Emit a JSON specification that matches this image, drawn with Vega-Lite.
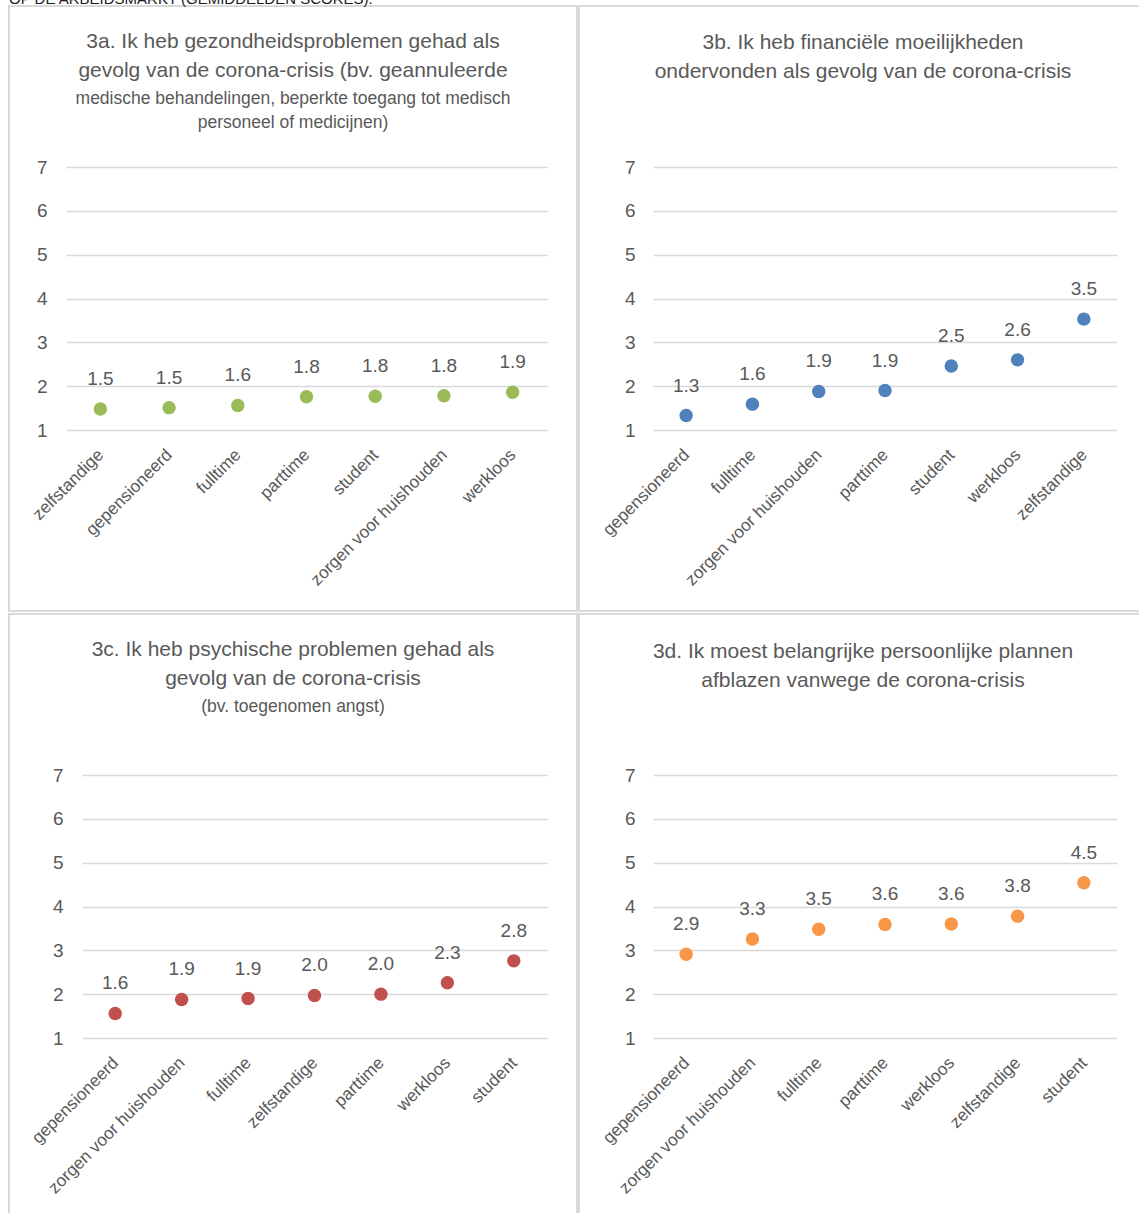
{
  "$schema": "https://vega.github.io/schema/vega-lite/v6.json",
  "padding": {"left": 8, "top": -8, "right": 0, "bottom": 0},
  "background": "white",
  "config": {
    "font": "Liberation Sans",
    "view": {"stroke": "#d9d9d9", "strokeWidth": 2},
    "axis": {"labelColor": "#595959", "labelFont": "Liberation Sans", "labelFontSize": 19, "domain": false, "ticks": false, "title": null, "gridColor": "#d9d9d9", "gridWidth": 1.5},
    "axisX": {"labelFontSize": 17.2, "labelBaseline": "middle", "labelAlign": "right"},
    "title": {"color": "#595959", "font": "Liberation Sans", "fontSize": 21, "fontWeight": "normal", "subtitleColor": "#595959", "subtitleFont": "Liberation Sans", "subtitleFontSize": 17.5, "lineHeight": 29, "subtitleLineHeight": 24, "subtitlePadding": 9, "anchor": "middle", "frame": "group"}
  },
  "title": {"text": "OP DE ARBEIDSMARKT (GEMIDDELDEN SCORES).", "anchor": "start", "font": "Liberation Sans", "fontSize": 15, "color": "#1a1a1a", "offset": -2},
  "datasets": {
    "a": [
      {"groep": "zelfstandige", "score": 1.48},
      {"groep": "gepensioneerd", "score": 1.51},
      {"groep": "fulltime", "score": 1.56},
      {"groep": "parttime", "score": 1.76},
      {"groep": "student", "score": 1.77},
      {"groep": "zorgen voor huishouden", "score": 1.78},
      {"groep": "werkloos", "score": 1.86}
    ],
    "b": [
      {"groep": "gepensioneerd", "score": 1.33},
      {"groep": "fulltime", "score": 1.59},
      {"groep": "zorgen voor huishouden", "score": 1.88},
      {"groep": "parttime", "score": 1.9},
      {"groep": "student", "score": 2.46},
      {"groep": "werkloos", "score": 2.6},
      {"groep": "zelfstandige", "score": 3.53}
    ],
    "c": [
      {"groep": "gepensioneerd", "score": 1.56},
      {"groep": "zorgen voor huishouden", "score": 1.88},
      {"groep": "fulltime", "score": 1.9},
      {"groep": "zelfstandige", "score": 1.97},
      {"groep": "parttime", "score": 2.0},
      {"groep": "werkloos", "score": 2.26},
      {"groep": "student", "score": 2.76}
    ],
    "d": [
      {"groep": "gepensioneerd", "score": 2.91},
      {"groep": "zorgen voor huishouden", "score": 3.26},
      {"groep": "fulltime", "score": 3.48},
      {"groep": "parttime", "score": 3.59},
      {"groep": "werkloos", "score": 3.6},
      {"groep": "zelfstandige", "score": 3.78},
      {"groep": "student", "score": 4.54}
    ]
  },
  "spacing": 1,
  "vconcat": [
    {
      "spacing": 0,
      "hconcat": [
        {
          "width": 568, "height": 605,
          "title": {"text": ["3a. Ik heb gezondheidsproblemen gehad als", "gevolg van de corona-crisis (bv. geannuleerde"], "subtitle": ["medische behandelingen, beperkte toegang tot medisch", "personeel of medicijnen)"], "offset": -125},
          "data": {"name": "a"},
          "encoding": {
            "x": {"field": "groep", "type": "nominal", "sort": null, "scale": {"range": [57, 538], "paddingInner": 0, "paddingOuter": 0}, "axis": {"labelAngle": -45, "offset": -181, "labelPadding": 22, "grid": false, "labelLimit": 400}},
            "y": {"field": "score", "type": "quantitative", "scale": {"domain": [1, 7], "range": [424, 161], "nice": false, "zero": false}, "axis": {"values": [1, 2, 3, 4, 5, 6, 7], "offset": -38, "labelPadding": 0, "grid": true}}
          },
          "layer": [
            {"mark": {"type": "circle", "size": 180, "opacity": 1, "color": "#9bbb59"}},
            {"mark": {"type": "text", "dy": -30, "fontSize": 19, "color": "#595959"}, "encoding": {"text": {"field": "score", "type": "quantitative", "format": ".1f"}}}
          ]
        },
        {
          "width": 568, "height": 605,
          "title": {"text": ["3b. Ik heb financiële moeilijkheden", "ondervonden als gevolg van de corona-crisis"], "offset": -76},
          "data": {"name": "b"},
          "encoding": {
            "x": {"field": "groep", "type": "nominal", "sort": null, "scale": {"range": [74, 538], "paddingInner": 0, "paddingOuter": 0}, "axis": {"labelAngle": -45, "offset": -181, "labelPadding": 22, "grid": false, "labelLimit": 400}},
            "y": {"field": "score", "type": "quantitative", "scale": {"domain": [1, 7], "range": [424, 161], "nice": false, "zero": false}, "axis": {"values": [1, 2, 3, 4, 5, 6, 7], "offset": -56, "labelPadding": 0, "grid": true}}
          },
          "layer": [
            {"mark": {"type": "circle", "size": 180, "opacity": 1, "color": "#4f81bd"}},
            {"mark": {"type": "text", "dy": -30, "fontSize": 19, "color": "#595959"}, "encoding": {"text": {"field": "score", "type": "quantitative", "format": ".1f"}}}
          ]
        }
      ]
    },
    {
      "spacing": 0,
      "hconcat": [
        {
          "width": 568, "height": 605,
          "title": {"text": ["3c. Ik heb psychische problemen gehad als", "gevolg van de corona-crisis"], "subtitle": ["(bv. toegenomen angst)"], "offset": -101},
          "data": {"name": "c"},
          "encoding": {
            "x": {"field": "groep", "type": "nominal", "sort": null, "scale": {"range": [73, 538], "paddingInner": 0, "paddingOuter": 0}, "axis": {"labelAngle": -45, "offset": -181, "labelPadding": 22, "grid": false, "labelLimit": 400}},
            "y": {"field": "score", "type": "quantitative", "scale": {"domain": [1, 7], "range": [424, 161], "nice": false, "zero": false}, "axis": {"values": [1, 2, 3, 4, 5, 6, 7], "offset": -54, "labelPadding": 0, "grid": true}}
          },
          "layer": [
            {"mark": {"type": "circle", "size": 180, "opacity": 1, "color": "#c0504d"}},
            {"mark": {"type": "text", "dy": -30, "fontSize": 19, "color": "#595959"}, "encoding": {"text": {"field": "score", "type": "quantitative", "format": ".1f"}}}
          ]
        },
        {
          "width": 568, "height": 605,
          "title": {"text": ["3d. Ik moest belangrijke persoonlijke plannen", "afblazen vanwege de corona-crisis"], "offset": -77},
          "data": {"name": "d"},
          "encoding": {
            "x": {"field": "groep", "type": "nominal", "sort": null, "scale": {"range": [74, 538], "paddingInner": 0, "paddingOuter": 0}, "axis": {"labelAngle": -45, "offset": -181, "labelPadding": 22, "grid": false, "labelLimit": 400}},
            "y": {"field": "score", "type": "quantitative", "scale": {"domain": [1, 7], "range": [424, 161], "nice": false, "zero": false}, "axis": {"values": [1, 2, 3, 4, 5, 6, 7], "offset": -56, "labelPadding": 0, "grid": true}}
          },
          "layer": [
            {"mark": {"type": "circle", "size": 180, "opacity": 1, "color": "#f79646"}},
            {"mark": {"type": "text", "dy": -30, "fontSize": 19, "color": "#595959"}, "encoding": {"text": {"field": "score", "type": "quantitative", "format": ".1f"}}}
          ]
        }
      ]
    }
  ]
}
